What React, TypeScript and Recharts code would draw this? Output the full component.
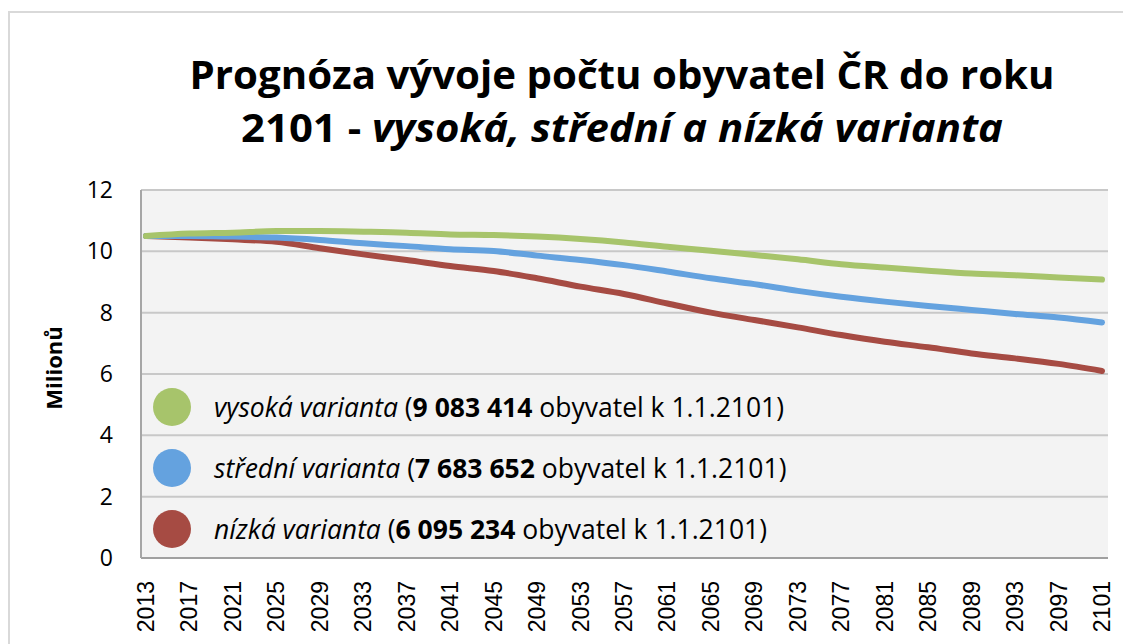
import React from 'react';
import { LineChart, Line, XAxis, YAxis, CartesianGrid } from 'recharts';

const years = [2013, 2017, 2021, 2025, 2029, 2033, 2037, 2041, 2045, 2049, 2053, 2057, 2061, 2065, 2069, 2073, 2077, 2081, 2085, 2089, 2093, 2097, 2101];
const vysoka = [10.50, 10.58, 10.61, 10.66, 10.66, 10.64, 10.61, 10.55, 10.53, 10.48, 10.40, 10.29, 10.15, 10.02, 9.88, 9.74, 9.58, 9.47, 9.37, 9.28, 9.22, 9.15, 9.08];
const stredni = [10.50, 10.50, 10.48, 10.45, 10.37, 10.26, 10.17, 10.07, 10.01, 9.86, 9.72, 9.55, 9.34, 9.12, 8.93, 8.71, 8.52, 8.36, 8.22, 8.09, 7.96, 7.84, 7.68];
const nizka = [10.50, 10.45, 10.39, 10.31, 10.10, 9.90, 9.72, 9.52, 9.36, 9.12, 8.85, 8.61, 8.30, 8.00, 7.76, 7.52, 7.27, 7.05, 6.87, 6.67, 6.51, 6.33, 6.10];
const yTicks = [0, 2, 4, 6, 8, 10, 12];

const seriesKeys = ['vysoka', 'stredni', 'nizka'];
const seriesNames = ['vysoká varianta', 'střední varianta', 'nízká varianta'];
const finalCounts = ['9 083 414', '7 683 652', '6 095 234'];
const seriesColors = ['#a7c46b', '#64a2df', '#a64b43'];

const titleLine1 = 'Prognóza vývoje počtu obyvatel ČR do roku';
const titleLine2a = '2101 - ';
const titleLine2b = 'vysoká, střední a nízká varianta';
const yAxisLabel = 'Milionů';
const legendPrefix = ' (';
const legendSuffix = ' obyvatel k 1.1.2101)';

const data = years.map((y, i) => ({ year: y, vysoka: vysoka[i], stredni: stredni[i], nizka: nizka[i] }));

const FONT = 'Open Sans';

const XTick = (props: any) => {
  const { x, y, payload } = props;
  return (
    <text x={x} y={y} transform={`rotate(-90 ${x} ${y})`} textAnchor="end" dominantBaseline="central"
      fontSize={23} fontFamily="Liberation Sans" fill="#000">{payload.value}</text>
  );
};

export default function App() {
  return (
    <div style={{ position: 'relative', width: 1123, height: 636, overflow: 'hidden', background: '#fff' }}>
      <div style={{ position: 'absolute', left: 0, top: 3, width: 1122, height: 700, border: '2px solid #d9d9d9', boxSizing: 'border-box' }} />
      <LineChart width={1123} height={636} data={data} margin={{ top: 182, right: 23, bottom: 0, left: 0 }}>
        <CartesianGrid vertical={false} stroke="#c8c8c8" strokeWidth={2} fill="#f3f3f3" />
        <XAxis dataKey="year" type="number" domain={[2013, 2101]} ticks={years} interval={0}
          padding={{ left: 5, right: 6 }} height={86} axisLine={{ stroke: '#a0a0a0', strokeWidth: 2 }}
          tickLine={false} tickSize={0} tickMargin={23} tick={<XTick />} />
        <YAxis domain={[0, 12]} ticks={yTicks} interval={0} width={133}
          axisLine={{ stroke: '#a6a6a6', strokeWidth: 2 }} tickLine={false} tickSize={0} tickMargin={28}
          tick={{ fill: '#000', fontSize: 23, fontFamily: FONT }} />
        {[2, 1, 0].map((i) => (
          <Line key={seriesKeys[i]} dataKey={seriesKeys[i]} type="monotone" stroke={seriesColors[i]}
            strokeWidth={6} strokeLinecap="round" dot={false} isAnimationActive={false} />
        ))}
      </LineChart>
      <svg width={1123} height={636} style={{ position: 'absolute', left: 0, top: 0, pointerEvents: 'none' }}>
        <text x={614} y={81} textAnchor="middle" fontFamily={FONT} fontWeight={700} fontSize={40}
          textLength={865} lengthAdjust="spacingAndGlyphs" fill="#000">{titleLine1}</text>
        <text x={614} y={134} textAnchor="middle" fontFamily={FONT} fontWeight={700} fontSize={40}
          textLength={762} lengthAdjust="spacingAndGlyphs" fill="#000">
          <tspan>{titleLine2a}</tspan><tspan fontStyle="italic">{titleLine2b}</tspan>
        </text>
        <text x={45} y={360} transform="rotate(-90 45 360)" textAnchor="middle" dominantBaseline="central"
          fontFamily={FONT} fontWeight={700} fontSize={22} fill="#000">{yAxisLabel}</text>
        {seriesNames.map((name, i) => (
          <g key={name}>
            <circle cx={164} cy={399 + 61 * i} r={19} fill={seriesColors[i]} />
            <text x={206} y={399 + 61 * i} dominantBaseline="central" fontFamily={FONT} fontSize={26.5} fill="#000">
              <tspan fontStyle="italic">{name}</tspan>
              <tspan>{legendPrefix}</tspan>
              <tspan fontWeight={700}>{finalCounts[i]}</tspan>
              <tspan>{legendSuffix}</tspan>
            </text>
          </g>
        ))}
      </svg>
    </div>
  );
}
